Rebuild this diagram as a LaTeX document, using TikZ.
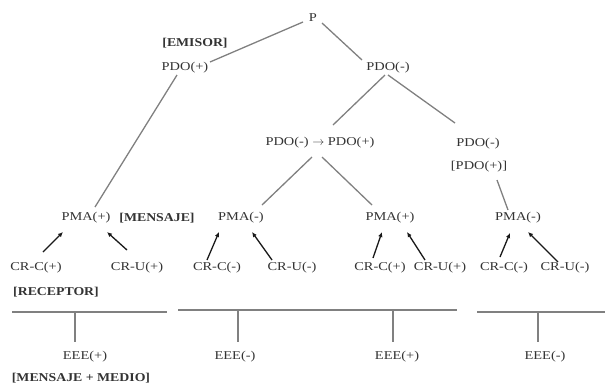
\documentclass[tikz,border=0pt]{standalone}
\usepackage{fontspec}
\setmainfont{Liberation Serif}
\newfontfamily\regwide[FakeStretch=1.2]{Liberation Serif}
\newfontfamily\boldwide[FakeStretch=1.15]{Liberation Serif Bold}
\usetikzlibrary{arrows.meta}
\begin{document}
\begin{tikzpicture}[x=1pt,y=-1pt,
  lbl/.style={font=\regwide\fontsize{12}{13}\selectfont, text=black!80, inner sep=0pt},
  tag/.style={font=\boldwide\fontsize{12}{13}\selectfont, text=black!80, inner sep=0pt},
  conn/.style={draw=black!50, line width=1.3pt},
  arr/.style={draw=black!90, line width=1.3pt, -{Latex[length=5pt,width=4.5pt]}},
  base/.style={draw=black!50, line width=1.6pt}]
\useasboundingbox (0,0) rectangle (605,384);
% nodes
\node[lbl] (p) at (313,18) {P};
\node[tag] (emisor) at (195,43) {[EMISOR]};
\node[lbl] (pdop) at (185,68) {PDO(+)};
\node[lbl] (pdom) at (388,68) {PDO(-)};
\node[lbl] (pdomp) at (320,143) {PDO(-) \(\rightarrow\) PDO(+)};
\node[lbl] (pdom2) at (478,144) {PDO(-)};
\node[lbl] (pdob) at (479,167) {[PDO(+)]};
\node[lbl] (pma1) at (86,218) {PMA(+)};
\node[tag] (mensaje) at (157,218) {[MENSAJE]};
\node[lbl] (pma2) at (241,218) {PMA(-)};
\node[lbl] (pma3) at (390,218) {PMA(+)};
\node[lbl] (pma4) at (518,218) {PMA(-)};
\node[lbl] (crc1) at (36,268) {CR-C(+)};
\node[lbl] (cru1) at (137,268) {CR-U(+)};
\node[tag] (receptor) at (56,292) {[RECEPTOR]};
\node[lbl] (crc2) at (217,268) {CR-C(-)};
\node[lbl] (cru2) at (292,268) {CR-U(-)};
\node[lbl] (crc3) at (380,268) {CR-C(+)};
\node[lbl] (cru3) at (440,268) {CR-U(+)};
\node[lbl] (crc4) at (504,268) {CR-C(-)};
\node[lbl] (cru4) at (565,268) {CR-U(-)};
\node[lbl] (e1) at (85,357) {EEE(+)};
\node[tag] (medio) at (81,378) {[MENSAJE + MEDIO]};
\node[lbl] (e2) at (235,357) {EEE(-)};
\node[lbl] (e3) at (397,357) {EEE(+)};
\node[lbl] (e4) at (545,357) {EEE(-)};
% tree lines
\draw[conn] ([shift={(-10,4)}]p.center) -- ([shift={(25,-6)}]pdop.center);
\draw[conn] ([shift={(9,5)}]p.center) -- ([shift={(-26,-8)}]pdom.center);
\draw[conn] ([shift={(-8,7)}]pdop.center) -- ([shift={(9,-11)}]pma1.center);
\draw[conn] ([shift={(-3,7)}]pdom.center) -- ([shift={(13,-18)}]pdomp.center);
\draw[conn] ([shift={(0,7)}]pdom.center) -- ([shift={(-23,-21)}]pdom2.center);
\draw[conn] ([shift={(-8,14)}]pdomp.center) -- ([shift={(21,-13)}]pma2.center);
\draw[conn] ([shift={(2,14)}]pdomp.center) -- ([shift={(-18,-13)}]pma3.center);
\draw[conn] ([shift={(18,13)}]pdob.center) -- ([shift={(-10,-8)}]pma4.center);
% arrows
\draw[arr] ([shift={(7,-16)}]crc1.center) -- ([shift={(-23,14)}]pma1.center);
\draw[arr] ([shift={(-10,-18)}]cru1.center) -- ([shift={(21,14)}]pma1.center);
\draw[arr] ([shift={(-10,-8)}]crc2.center) -- ([shift={(-22,14)}]pma2.center);
\draw[arr] ([shift={(-20,-8)}]cru2.center) -- ([shift={(11,14)}]pma2.center);
\draw[arr] ([shift={(-7,-10)}]crc3.center) -- ([shift={(-8,14)}]pma3.center);
\draw[arr] ([shift={(-15,-8)}]cru3.center) -- ([shift={(17,14)}]pma3.center);
\draw[arr] ([shift={(-4,-11)}]crc4.center) -- ([shift={(-8,15)}]pma4.center);
\draw[arr] ([shift={(-7,-6)}]cru4.center) -- ([shift={(10,14)}]pma4.center);
% base lines
\coordinate (b1l) at (12,312); \coordinate (b1r) at (167,312);
\coordinate (b2l) at (178,310); \coordinate (b2r) at (457,310);
\coordinate (b3l) at (477,312); \coordinate (b3r) at (605,312);
\draw[base] (b1l) -- (b1r);
\draw[base] (b2l) -- (b2r);
\draw[base] (b3l) -- (b3r);
\coordinate (t1) at (75,312);
\coordinate (t2) at (238,310);
\coordinate (t3) at (393,310);
\coordinate (t4) at (538,312);
\draw[conn] (t1) -- ([shift={(-10,-15)}]e1.center);
\draw[conn] (t2) -- ([shift={(3,-15)}]e2.center);
\draw[conn] (t3) -- ([shift={(-4,-15)}]e3.center);
\draw[conn] (t4) -- ([shift={(-7,-15)}]e4.center);
\end{tikzpicture}
\end{document}
